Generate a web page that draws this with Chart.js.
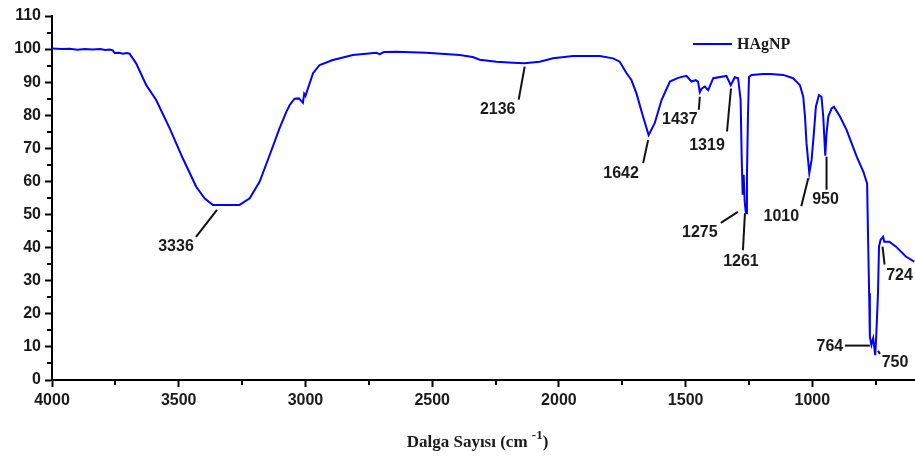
<!DOCTYPE html>
<html><head><meta charset="utf-8">
<script src="https://cdn.jsdelivr.net/npm/chart.js@4.4.1/dist/chart.umd.min.js"></script>
<style>html,body{margin:0;padding:0;background:#fff}</style>
</head><body>
<canvas id="c" width="915" height="460"></canvas>
<script>
// ---- data ----
const seriesName = 'HAgNP';
const wavenumbers = [4000,3960,3930,3900,3870,3840,3810,3790,3773,3760,3753,3735,3720,3705,3694,3668,3628,3589,3536,3484,3431,3398,3365,3336,3300,3260,3220,3181,3141,3102,3075,3062,3043,3026,3015,3010,3005,3000,2995,2970,2944,2892,2813,2720,2707,2690,2641,2523,2391,2340,2320,2312,2246,2181,2136,2076,2023,1944,1839,1786,1760,1733,1714,1694,1668,1646,1622,1595,1562,1530,1497,1477,1460,1451,1444,1437,1424,1411,1391,1339,1322,1306,1293,1283,1279,1275,1271,1267,1263,1261,1258,1254,1250,1240,1194,1164,1115,1076,1049,1036,1029,1023,1012,1003,994,986,974,964,957,949,944,937,924,915,891,865,825,799,784,780,776,773,767,760,752,748,741,737,731,726,721,716,696,670,631,598];
const transmittance = [100.2,100.0,100.1,99.8,100.0,99.9,100.0,99.7,99.9,99.6,98.8,98.9,98.6,98.8,98.6,95.7,89.1,84.6,76.1,67.0,58.4,54.9,52.9,52.9,52.9,52.9,54.9,59.9,68.0,76.1,81.1,83.1,85.0,85.1,84.2,83.8,86.5,85.8,87.0,92.7,95.2,96.7,98.2,98.9,98.5,99.1,99.2,98.9,98.2,97.6,97.0,96.8,96.2,95.9,95.7,96.2,97.2,97.9,97.9,97.2,96.2,92.7,90.7,86.6,79.6,74.0,77.6,84.6,90.2,91.3,91.9,90.2,90.6,90.2,87.0,88.0,88.7,87.6,91.2,91.9,89.1,91.5,91.2,84.6,68.0,56.0,62.0,54.0,51.0,50.4,62.0,80.0,91.6,92.2,92.5,92.5,92.2,91.2,89.1,85.6,79.6,71.5,62.5,66.5,74.6,82.6,86.1,85.6,79.6,67.8,74.6,79.6,82.1,82.6,79.6,75.6,67.5,63.0,59.4,42.3,26.2,13.1,10.6,12.6,7.5,13.1,26.2,40.3,42.3,42.8,43.3,41.8,41.8,40.3,37.3,35.8];
const xTickValues = [4000,3500,3000,2500,2000,1500,1000];
const yTickValues = [0,10,20,30,40,50,60,70,80,90,100,110];
const peakLabels = ['3336','2136','1642','1437','1319','1275','1261','1010','950','764','750','724'];
const peakAnchorWn = [3349,2135,1648,1444,1321,1294,1266,1016,944,773,741,723];
const peakAnchorT = [51.4,94.7,72.5,85.6,88.1,50.8,50.4,61.0,67.5,10.4,8.8,40.3];

// ---- layout / style (pixel offsets of leader-line ends and label centres) ----
const leaderOffsets = [[-21,27,-41,37],[-6,33,-27,43],[-5,23,-27,34],[-1,13,-20,23],[-4,43,-24,57],[-17,11,-38,21],[-2,37,-4,48],[-7,28,-27,38],[0,33,-1,43],[-25,0,-40,1],[2,3,17,12],[2,18,17,29]];
const TEXT = '#1a1a1a';
const SANS = "'Liberation Sans', Arial, sans-serif";
const SERIF = "'Liberation Serif', 'Times New Roman', serif";

const points = wavenumbers.map((w,i)=>({x:w,y:transmittance[i]}));

const extras = {
  id:'extras',
  afterDraw(chart){
    const ctx = chart.ctx, xs = chart.scales.x, ys = chart.scales.y, ca = chart.chartArea;
    ctx.save();
    // minor ticks
    ctx.strokeStyle = '#000'; ctx.lineWidth = 2;
    for (let v = 3750; v > xs.min; v -= 500) {
      const px = Math.round(xs.getPixelForValue(v));
      ctx.beginPath(); ctx.moveTo(px, ca.bottom); ctx.lineTo(px, ca.bottom + 5); ctx.stroke();
    }
    for (let v = 5; v < 110; v += 10) {
      const py = Math.round(ys.getPixelForValue(v));
      ctx.beginPath(); ctx.moveTo(ca.left, py); ctx.lineTo(ca.left - 5, py); ctx.stroke();
    }
    // peak annotations
    ctx.font = `bold 16px ${SANS}`; ctx.fillStyle = TEXT;
    ctx.textAlign = 'center'; ctx.textBaseline = 'middle';
    ctx.lineWidth = 2; ctx.strokeStyle = '#111';
    peakLabels.forEach((lab,i)=>{
      const px = xs.getPixelForValue(peakAnchorWn[i]);
      const py = ys.getPixelForValue(peakAnchorT[i]);
      const o = leaderOffsets[i];
      ctx.beginPath(); ctx.moveTo(px,py); ctx.lineTo(px+o[0], py+o[1]); ctx.stroke();
      ctx.fillText(lab, px+o[2], py+o[3]);
    });
    // legend
    const ds = chart.data.datasets[0];
    const lx = ca.right - 222, ly = ca.top + 28;
    ctx.strokeStyle = ds.borderColor; ctx.lineWidth = 2;
    ctx.beginPath(); ctx.moveTo(lx, ly); ctx.lineTo(lx + 39, ly); ctx.stroke();
    ctx.font = `bold 16px ${SERIF}`; ctx.textAlign = 'left'; ctx.fillStyle = TEXT;
    ctx.fillText(ds.label, lx + 44, ly + 1);
    // x-axis title with superscript
    const main = 'Dalga Sayısı (cm ', sup = '-1', close = ')';
    ctx.textBaseline = 'alphabetic';
    ctx.font = `bold 17px ${SERIF}`;
    const w1 = ctx.measureText(main).width, w3 = ctx.measureText(close).width;
    ctx.font = `bold 13px ${SERIF}`;
    const w2 = ctx.measureText(sup).width;
    const cx = (ca.left + ca.right) / 2 - 6;
    let sx = cx - (w1 + w2 + w3) / 2;
    const base = ca.bottom + 67;
    ctx.font = `bold 17px ${SERIF}`; ctx.fillText(main, sx, base);
    ctx.font = `bold 13px ${SERIF}`; ctx.fillText(sup, sx + w1, base - 8);
    ctx.font = `bold 17px ${SERIF}`; ctx.fillText(close, sx + w1 + w2, base);
    ctx.restore();
  }
};

new Chart(document.getElementById('c'), {
  type:'line',
  data:{ datasets:[{ label:seriesName, data:points, borderColor:'#0000ff', borderWidth:2, pointRadius:0, tension:0, fill:false }] },
  options:{
    responsive:false, animation:false, devicePixelRatio:1,
    layout:{ padding:{ top:16, right:0, left:0, bottom:0 } },
    plugins:{ legend:{display:false}, tooltip:{enabled:false} },
    scales:{
      x:{ type:'linear', reverse:true, min:595, max:4000,
        afterBuildTicks(s){ s.ticks = xTickValues.map(v=>({value:v})); },
        afterFit(s){ s.height = 80; },
        ticks:{ font:{family:SANS, weight:'bold', size:16}, color:TEXT, padding:4, maxRotation:0, autoSkip:false, callback:v=>String(v) },
        grid:{ drawOnChartArea:false, drawTicks:true, tickLength:7, tickWidth:2, tickColor:'#000' },
        border:{ display:true, color:'#000', width:2 } },
      y:{ type:'linear', min:0, max:110,
        afterBuildTicks(s){ s.ticks = yTickValues.map(v=>({value:v})); },
        afterFit(s){ s.width = 52; },
        ticks:{ font:{family:SANS, weight:'bold', size:16}, color:TEXT, padding:4, autoSkip:false, callback:v=>String(v) },
        grid:{ drawOnChartArea:false, drawTicks:true, tickLength:7, tickWidth:2, tickColor:'#000' },
        border:{ display:true, color:'#000', width:2 } }
    }
  },
  plugins:[extras]
});
</script>
</body></html>
